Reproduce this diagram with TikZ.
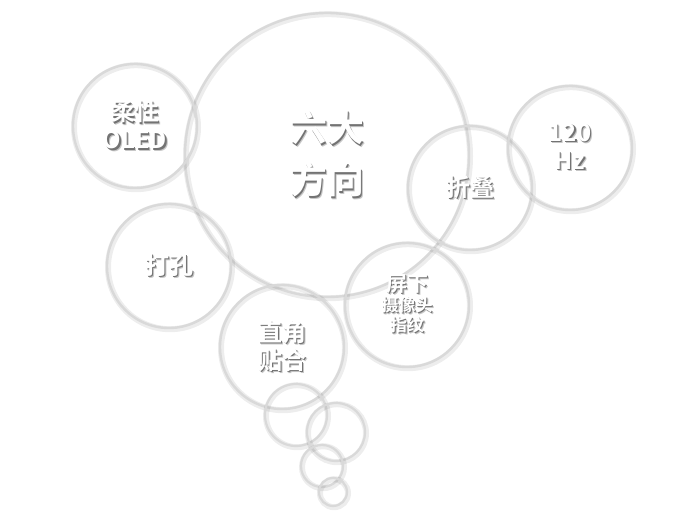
\documentclass[tikz,border=0pt]{standalone}
\usepackage{fontspec}
\newfontfamily\cjk{Noto Sans CJK SC}[BoldFont={Noto Sans CJK SC Bold}]
\definecolor{ringgray}{gray}{0.85}
\newcommand{\emb}[1]{\makebox[0pt][l]{\kern2.2pt\raisebox{-2.2pt}{\textcolor{black!22}{#1}}}\makebox[0pt][l]{\kern1.2pt\raisebox{-1.2pt}{\textcolor{black!55}{#1}}}#1}
\begin{document}
\begin{tikzpicture}[x=1pt,y=-1pt,
    bubble/.style={circle, inner sep=0pt, minimum size=2*#1, draw=ringgray, line width=2.4pt,
        text=white, align=center,
        preaction={draw=black, draw opacity=.07, line width=6pt, transform canvas={shift={(1pt,-1.2pt)}}}},
    bubble/.default=62pt,
    midfont/.style={font=\cjk\bfseries\fontsize{24}{28}\selectfont}]
\useasboundingbox[fill=white](0,0) rectangle (684,520);
% big circle
\node[bubble=142pt, font=\cjk\bfseries\fontsize{37}{52}\selectfont] (fangxiang) at (327,155) {\emb{六大}\\\emb{方向}};
% side circles
\node[bubble, midfont] (rouxing) at (135,126) {\emb{柔性}\\\emb{OLED}};
\node[bubble, midfont] (dakong) at (169,266) {\emb{打孔}};
\node[bubble, midfont] (zhedie) at (470,188) {\emb{折叠}};
\node[bubble, midfont] (hz) at (570,148) {\emb{120}\\\emb{Hz}};
\node[bubble, midfont] (zhijiao) at (282,347) {\emb{直角}\\\emb{贴合}};
\node[bubble, font=\cjk\bfseries\fontsize{17}{20}\selectfont] (pingxia) at (407,305)
    {{\fontsize{21}{22}\selectfont\emb{屏下}}\\\emb{摄像头}\\\emb{指纹}};
% small bubbles
\foreach \n/\x/\y/\r in {b1/296/415/31, b2/336/432/29, b3/322/466/21, b4/333/492/14}
{
    \node[bubble=\r pt, line width=2.2pt] (\n) at (\x,\y) {};
}
\end{tikzpicture}
\end{document}
